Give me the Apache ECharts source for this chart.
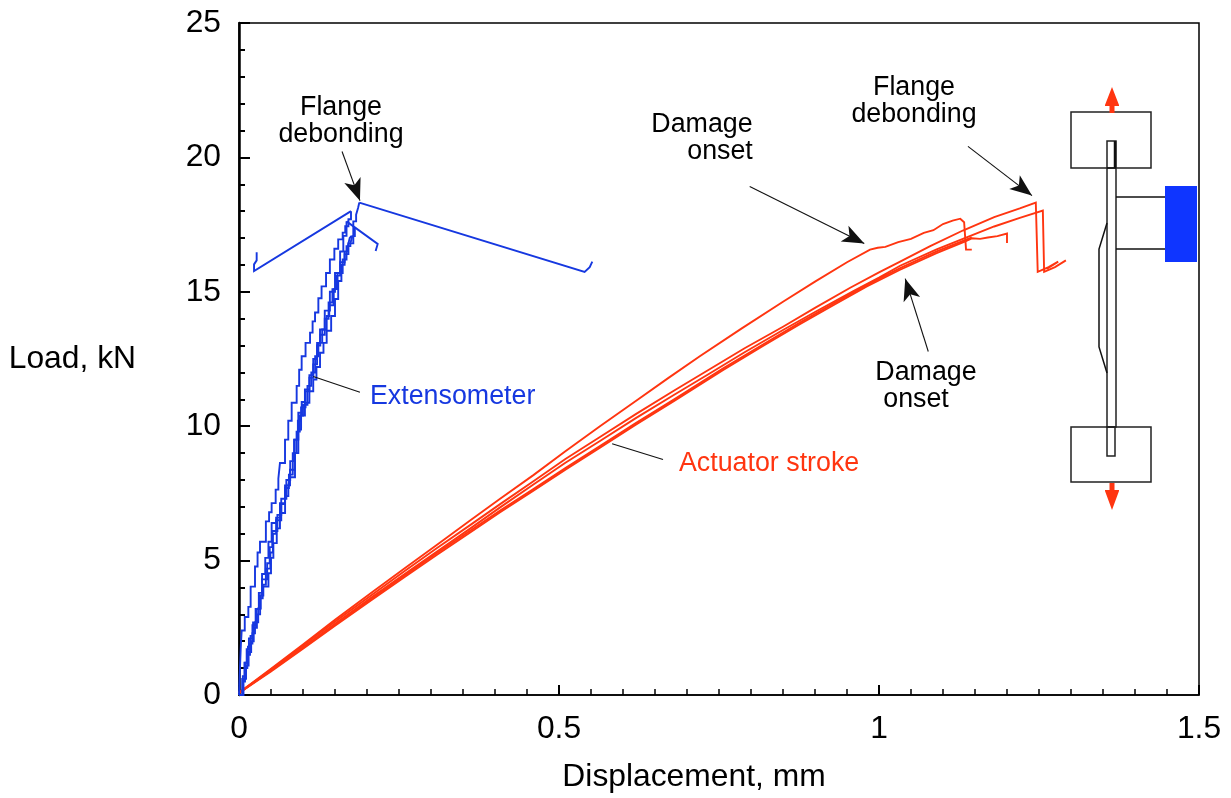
<!DOCTYPE html>
<html><head><meta charset="utf-8">
<style>html,body{margin:0;padding:0;background:#fff}#c{width:1231px;height:798px}</style>
<script src="https://cdn.jsdelivr.net/npm/echarts@6/dist/echarts.min.js"></script>
</head><body><div id="c"></div>
<script>
const xTicks = [0, 0.5, 1, 1.5];
const yTicks = [0, 5, 10, 15, 20, 25];
const RED = '#ff3510', BLUE = '#1638e0';

// Actuator stroke curves [displacement mm, load kN]
const strokeA = [[0,.08],[.05,.98],[.1,1.88],[.15,2.8],[.21,3.86],[.26,4.73],[.31,5.6],[.36,6.47],[.408,7.3],[.46,8.18],[.51,9.07],[.564,10.0],[.62,10.94],[.67,11.78],[.72,12.6],[.785,13.63],[.85,14.63],[.9,15.38],[.95,16.1],[.986,16.57],[.998,16.64],[1.01,16.67],[1.03,16.85],[1.05,16.97],[1.07,17.19],[1.085,17.29],[1.1,17.52],[1.115,17.65],[1.127,17.72],[1.133,17.59],[1.136,16.57],[1.139,16.52],[1.145,16.57]];
const strokeB = [[0,.08],[.05,.95],[.1,1.84],[.15,2.73],[.21,3.77],[.26,4.63],[.31,5.48],[.36,6.3],[.408,7.1],[.46,7.95],[.51,8.78],[.564,9.6],[.62,10.45],[.68,11.33],[.736,12.13],[.79,12.9],[.85,13.7],[.9,14.4],[.955,15.15],[1,15.72],[1.033,16.12],[1.08,16.7],[1.131,17.28],[1.18,17.78],[1.22,18.1],[1.245,18.32],[1.248,15.74],[1.265,15.92],[1.28,16.12],[1.262,15.85]];
const strokeC = [[0,.08],[.05,.92],[.1,1.78],[.15,2.65],[.21,3.68],[.26,4.52],[.31,5.35],[.36,6.17],[.408,6.98],[.46,7.83],[.51,8.64],[.564,9.45],[.62,10.3],[.68,11.17],[.736,11.97],[.79,12.75],[.85,13.58],[.9,14.25],[.96,15.03],[1,15.53],[1.033,15.97],[1.09,16.58],[1.134,17],[1.18,17.43],[1.22,17.75],[1.256,18.02],[1.258,15.74],[1.275,15.92],[1.292,16.17]];
const strokeD = [[0,.08],[.05,.88],[.1,1.72],[.15,2.58],[.21,3.58],[.26,4.41],[.31,5.23],[.36,6.03],[.408,6.8],[.46,7.6],[.51,8.38],[.564,9.2],[.62,10.06],[.68,10.94],[.756,12.08],[.82,13],[.877,13.8],[.93,14.52],[.981,15.2],[1.033,15.82],[1.09,16.44],[1.134,16.87],[1.145,16.99],[1.158,16.97],[1.17,17.02],[1.185,17.07],[1.2,17.17],[1.2,16.82]];
const strokeE = [[0,.08],[.05,.91],[.1,1.76],[.15,2.62],[.21,3.64],[.26,4.47],[.31,5.29],[.36,6.09],[.408,6.86],[.46,7.66],[.51,8.44],[.564,9.26],[.62,10.12],[.68,11],[.756,12.14],[.82,13.06],[.877,13.86],[.93,14.58],[.981,15.26],[1.033,15.88],[1.09,16.5],[1.145,17.02]];

// Extensometer curves, drawn as staircases
const extA = [[0,0],[.001,.7],[.002,1.3],[.003,1.9],[.0042,2.4],[.009,2.9],[.0146,3.28],[.0182,4.03],[.025,4.78],[.029,5.3],[.0328,5.7],[.042,6.46],[.047,6.8],[.051,7.14],[.0573,7.64],[.0615,8.05],[.064,8.63],[.0719,9.5],[.077,10.2],[.0823,10.87],[.0901,11.5],[.094,12.1],[.0979,12.6],[.104,13.1],[.111,13.48],[.115,13.9],[.1188,14.23],[.124,14.76],[.129,15.2],[.136,15.7],[.142,16.2],[.149,16.6],[.155,16.95],[.162,17.2],[.166,17.44],[.171,17.7],[.175,18]];
const extB = [[0,0],[.006,.5],[.0094,1],[.013,1.5],[.0172,1.91],[.021,2.3],[.025,2.7],[.03,3.22],[.034,3.7],[.038,4.03],[.046,4.53],[.05,5.1],[.0537,5.65],[.059,6.2],[.064,6.77],[.072,7.4],[.0771,7.8],[.0797,8.1],[.0875,9],[.0927,9.88],[.097,10.4],[.103,10.87],[.11,11.3],[.116,11.74],[.121,12.2],[.1266,12.73],[.132,13.1],[.137,13.55],[.144,14.1],[.15,14.73],[.155,15.4],[.16,16],[.165,16.4],[.171,16.8],[.1786,17.62],[.183,17.87],[.186,18.12],[.188,18.32]];
const extC = [[0,0],[.005,.6],[.0085,1.2],[.012,1.7],[.0155,2.1],[.021,2.6],[.026,3.2],[.031,3.8],[.036,4.5],[.041,5.1],[.046,5.7],[.051,6.4],[.058,6.6],[.064,7.14],[.0719,7.8],[.0797,8.38],[.087,9.5],[.0927,10.5],[.098,10.9],[.103,11.37],[.11,11.9],[.116,12.5],[.122,13.1],[.1266,13.6],[.134,14.3],[.142,15],[.15,15.7],[.158,16.5],[.163,17.08],[.168,17.62]];
const extD = [[0,0],[.007,.6],[.011,1.1],[.015,1.6],[.019,2],[.023,2.5],[.028,3],[.033,3.6],[.037,4.1],[.042,4.7],[.049,5.3],[.053,6],[.058,6.5],[.066,7.1],[.072,7.7],[.078,8.2],[.084,9],[.09,9.8],[.095,10.4],[.1,10.8],[.107,11.5],[.113,12],[.119,12.6],[.124,13.1],[.13,13.6],[.137,14.1],[.141,14.5],[.148,15.1],[.154,15.7],[.162,16.2],[.168,16.7],[.174,16.8],[.177,17.07],[.181,17.37]];
const extE = [[0,0],[.006,.7],[.01,1.2],[.014,1.8],[.018,2.2],[.022,2.7],[.027,3.2],[.032,3.7],[.036,4.3],[.044,4.9],[.048,5.5],[.052,6.1],[.06,6.7],[.066,7.3],[.074,8],[.08,8.7],[.086,9.5],[.092,10.2],[.097,10.7],[.104,11.3],[.11,11.8],[.116,12.3],[.122,13],[.127,13.4],[.134,14],[.14,14.6],[.146,15.1],[.152,15.6],[.158,16.1],[.165,16.5],[.17,16.7],[.173,17],[.176,17.08]];
// Post-peak unloading segments of the extensometer traces
const extTailA = [[.175,18],[.0235,15.77],[.0235,16.02],[.0276,16.17],[.0276,16.47]];
const extTailB = [[.188,18.32],[.54,15.74],[.548,15.92],[.552,16.12]];
const extTailC = [[.168,17.62],[.2167,16.78],[.2135,16.52]];

// Leader lines [from, to] in axis units
const arrowLeaders = [
  [[.161,20.22],[.189,18.39]],
  [[.798,18.92],[.977,16.8]],
  [[1.139,20.41],[1.239,18.58]],
  [[1.077,12.78],[1.041,15.49]]
];
const plainLeaders = [
  [[.189,11.26],[.116,11.85]],
  [[.6625,8.76],[.583,9.35]]
];

const lineSeries = (data, color, step) => ({
  type:'line', data, symbol:'none', step: step ? 'end' : false, animation:false, silent:true,
  lineStyle:{color, width: 1.9, join:'miter'}
});
const leaderSeries = (pairs, arrow) => ({
  type:'line', data:[], silent:true, animation:false,
  markLine:{
    silent:true, animation:false,
    symbol: arrow ? ['none','arrow'] : ['none','none'],
    symbolSize: arrow ? [13,22] : 0,
    label:{show:false},
    lineStyle:{color:'#111', width:1.1, type:'solid'},
    emphasis:{disabled:true},
    data: pairs.map(p => [{coord:p[0]},{coord:p[1]}])
  }
});

const txt = (text, x, y, fill, size=26.8, align='center') => ({
  type:'text', silent:true,
  style:{text, x, y, fill, font:size+'px "Liberation Sans", Arial, sans-serif', textAlign:align, textVerticalAlign:'middle'}
});
const box = (x,y,w,h,lw=1.5) => ({type:'rect', silent:true, shape:{x,y,width:w,height:h}, style:{fill:'none', stroke:'#222', lineWidth:lw}});
const poly = (points,lw=1.5) => ({type:'polyline', silent:true, shape:{points}, style:{fill:'none', stroke:'#111', lineWidth:lw}});
const fillPoly = (points,fill) => ({type:'polygon', silent:true, shape:{points}, style:{fill, stroke:'none'}});

const chart = echarts.init(document.getElementById('c'), null, {renderer:'canvas'});
chart.setOption({
  animation:false,
  backgroundColor:'#fff',
  textStyle:{fontFamily:'"Liberation Sans", Arial, sans-serif'},
  grid:{left:239, right:32, top:23, bottom:103, show:true, borderColor:'#000', borderWidth:1.5, backgroundColor:'transparent'},
  xAxis:{
    type:'value', min:xTicks[0], max:xTicks[xTicks.length-1], interval:0.5,
    name:'Displacement, mm', nameLocation:'middle', nameGap:66,
    nameTextStyle:{color:'#000', fontSize:31.8, padding:[0,50,0,0]},
    axisLine:{show:true, lineStyle:{color:'#000', width:1.5}},
    axisTick:{show:true, inside:true, length:10, lineStyle:{color:'#000', width:2}},
    minorTick:{show:true, splitNumber:10, length:6, lineStyle:{color:'#000', width:1.5}},
    axisLabel:{color:'#000', fontSize:31.8, margin:18, formatter:v=>String(v), showMinLabel:true, showMaxLabel:true},
    splitLine:{show:false}, minorSplitLine:{show:false}
  },
  yAxis:{
    type:'value', min:yTicks[0], max:yTicks[yTicks.length-1], interval:5,
    name:'Load, kN', nameLocation:'middle', nameRotate:0, nameGap:103,
    nameTextStyle:{color:'#000', fontSize:31.8, align:'right', verticalAlign:'middle', padding:[12,0,0,0]},
    axisLine:{show:true, lineStyle:{color:'#000', width:2.5}},
    axisTick:{show:true, inside:true, length:11, lineStyle:{color:'#000', width:2}},
    minorTick:{show:true, splitNumber:5, length:6, lineStyle:{color:'#000', width:2}},
    axisLabel:{color:'#000', fontSize:31.8, margin:18, showMinLabel:true, showMaxLabel:true},
    splitLine:{show:false}, minorSplitLine:{show:false}
  },
  series:[
    ...[strokeA,strokeB,strokeC,strokeD,strokeE].map(d=>lineSeries(d,RED,false)),
    ...[extA,extB,extC,extD,extE].map(d=>lineSeries(d,BLUE,true)),
    ...[extTailA,extTailB,extTailC].map(d=>lineSeries(d,BLUE,false)),
    leaderSeries(arrowLeaders,true),
    leaderSeries(plainLeaders,false)
  ],
  graphic:{elements:[
    txt('Flange',341,108,'#000'), txt('debonding',341,135,'#000'),
    txt('Flange',914,88,'#000'), txt('debonding',914,115,'#000'),
    txt('Damage',702,125,'#000'), txt('onset',720,152,'#000'),
    txt('Damage',926,373,'#000'), txt('onset',916,400,'#000'),
    txt('Extensometer',370,397,BLUE,26.8,'left'),
    txt('Actuator stroke',679,464,RED,26.8,'left'),
    // specimen sketch
    box(1071,112,80,56), box(1071,427,80,55),
    box(1107,141,9,286), box(1107,427,8,29),
    poly([[1115,141],[1115,168]],2.5),
    poly([[1107,168],[1116,168]]),
    poly([[1107,223],[1099,249],[1099,347],[1107,373]]),
    poly([[1116,197],[1165,197]]), poly([[1116,249],[1165,249]]),
    {type:'rect', silent:true, shape:{x:1165,y:186,width:32,height:76}, style:{fill:'#0f35ff'}},
    fillPoly([[1112,87],[1119,105],[1119,106],[1114.5,106],[1114.5,113],[1109.5,113],[1109.5,106],[1105,106],[1105,105]],RED),
    fillPoly([[1112,510],[1119,491],[1119,490],[1114.5,490],[1114.5,483],[1109.5,483],[1109.5,490],[1105,490],[1105,491]],RED)
  ]}
});
</script></body></html>
